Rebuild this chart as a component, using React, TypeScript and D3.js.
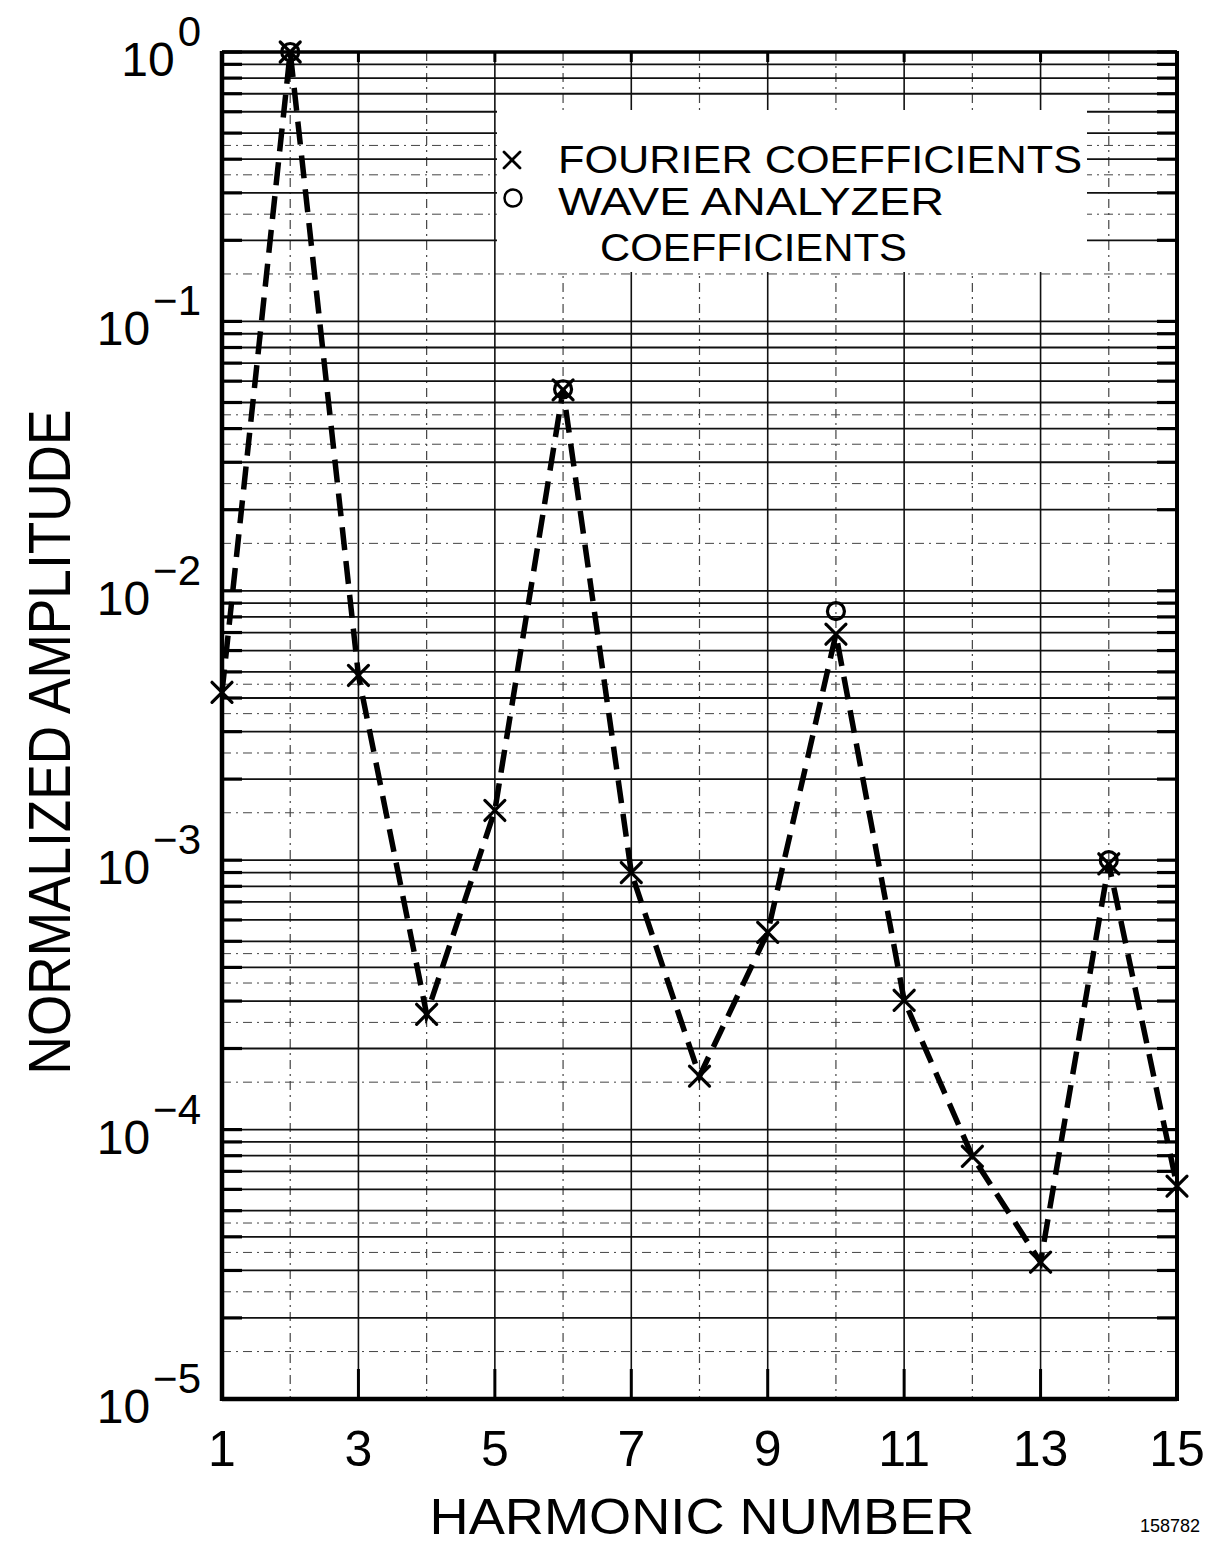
import React from "react";
import * as d3 from "d3";

// ---- data ----
const harmonics = [1, 2, 3, 4, 5, 6, 7, 8, 9, 10, 11, 12, 13, 14, 15];
const fourierAmplitudes = [
  4.2e-3, 1.0, 4.85e-3, 2.68e-4, 1.53e-3, 5.57e-2, 9.0e-4, 1.58e-4, 5.4e-4,
  6.9e-3, 3.02e-4, 7.96e-5, 3.22e-5, 9.7e-4, 6.17e-5,
];
const analyzerHarmonics = [2, 6, 10, 14];
const analyzerAmplitudes = [1.0, 5.6e-2, 8.4e-3, 1.0e-3];
const xTickValues = [1, 3, 5, 7, 9, 11, 13, 15];
const yTickExponents = [0, -1, -2, -3, -4, -5];
const legendLabels = ["FOURIER  COEFFICIENTS", "WAVE  ANALYZER", "COEFFICIENTS"];
const xTitle = "HARMONIC   NUMBER";
const yTitle = "NORMALIZED   AMPLITUDE";
const figureId = "158782";

const W = 1207;
const H = 1545;
const L = 222;
const R = 1177;
const T = 52;
const B = 1399;
const FONT = "'Liberation Sans', Arial, sans-serif";

export default function App() {
  const x = d3.scaleLinear().domain([1, 15]).range([L, R]);
  const y = d3.scaleLog().domain([1e-5, 1]).range([B, T]);

  const solidLevels: number[] = [];
  const dottedLevels: number[] = [];
  for (let e = -5; e < 0; e++) {
    for (let m = 1; m <= 9; m++) solidLevels.push(m * Math.pow(10, e));
    for (const m of [1.5, 2.5, 3.5, 4.5]) dottedLevels.push(m * Math.pow(10, e));
  }
  solidLevels.push(1);

  const line = d3
    .line<number>()
    .x((_, i) => x(harmonics[i]))
    .y((d) => y(d));

  const xMark = (cx: number, cy: number, s: number, key: string, w = 3.2) => (
    <g key={key} stroke="#000" strokeWidth={w} strokeLinecap="round">
      <line x1={cx - s} y1={cy - s} x2={cx + s} y2={cy + s} />
      <line x1={cx - s} y1={cy + s} x2={cx + s} y2={cy - s} />
    </g>
  );

  return (
    <svg
      width={W}
      height={H}
      style={{ position: "absolute", left: 0, top: 0, background: "#fff" }}
      fontFamily={FONT}
    >
      <rect x={0} y={0} width={W} height={H} fill="#fff" />
      {/* dotted minor horizontal lines */}
      {dottedLevels.map((v, i) => (
        <line
          key={"dh" + i}
          x1={L}
          x2={R}
          y1={y(v)}
          y2={y(v)}
          stroke="#444"
          strokeWidth={1}
          strokeDasharray="9 5 2 5"
        />
      ))}
      {/* even harmonic dotted vertical lines */}
      {harmonics
        .filter((h) => h % 2 === 0)
        .map((h) => (
          <line
            key={"dv" + h}
            x1={x(h)}
            x2={x(h)}
            y1={T}
            y2={B}
            stroke="#444"
            strokeWidth={1.2}
            strokeDasharray="9 5 2 5"
          />
        ))}
      {/* solid horizontal lines */}
      {solidLevels.map((v, i) => (
        <line
          key={"sh" + i}
          x1={L}
          x2={R}
          y1={y(v)}
          y2={y(v)}
          stroke="#111"
          strokeWidth={1.8}
        />
      ))}
      {/* odd harmonic solid vertical lines */}
      {xTickValues.map((h) => (
        <line
          key={"sv" + h}
          x1={x(h)}
          x2={x(h)}
          y1={T}
          y2={B}
          stroke="#111"
          strokeWidth={1.6}
        />
      ))}
      {/* axis tick marks */}
      {solidLevels.map((v, i) => (
        <g key={"tk" + i} stroke="#000" strokeWidth={3.2}>
          <line x1={L} x2={L + 20} y1={y(v)} y2={y(v)} />
          <line x1={R - 20} x2={R} y1={y(v)} y2={y(v)} />
        </g>
      ))}
      {xTickValues.map((h) => (
        <g key={"tx" + h} stroke="#000" strokeWidth={3}>
          <line x1={x(h)} x2={x(h)} y1={B} y2={B - 30} />
          <line x1={x(h)} x2={x(h)} y1={T} y2={T + 10} />
        </g>
      ))}
      {/* frame */}
      <line x1={L} x2={R} y1={T} y2={T} stroke="#000" strokeWidth={3.5} />
      <line x1={L} x2={R} y1={B} y2={B} stroke="#000" strokeWidth={4.5} />
      <line x1={L} x2={L} y1={T - 1} y2={B + 2} stroke="#000" strokeWidth={4.5} />
      <line x1={R} x2={R} y1={T - 1} y2={B + 2} stroke="#000" strokeWidth={4} />

      {/* legend box */}
      <rect x={497} y={110} width={590} height={162} fill="#fff" />
      {xMark(512, 160, 8, "lgx", 2.8)}
      <circle cx={513} cy={198} r={8.5} fill="none" stroke="#000" strokeWidth={2.5} />
      <text x={558} y={173} fontSize={38} textLength={524} lengthAdjust="spacingAndGlyphs">
        {legendLabels[0]}
      </text>
      <text x={558} y={215} fontSize={38} textLength={386} lengthAdjust="spacingAndGlyphs">
        {legendLabels[1]}
      </text>
      <text x={600} y={261} fontSize={38} textLength={307} lengthAdjust="spacingAndGlyphs">
        {legendLabels[2]}
      </text>

      {/* data line */}
      <path
        d={line(fourierAmplitudes) || ""}
        fill="none"
        stroke="#000"
        strokeWidth={5.5}
        strokeDasharray="23 11"
      />
      {/* Fourier markers */}
      {fourierAmplitudes.map((v, i) => xMark(x(harmonics[i]), y(v), 10, "fm" + i))}
      {/* analyzer markers */}
      {analyzerAmplitudes.map((v, i) => (
        <circle
          key={"am" + i}
          cx={x(analyzerHarmonics[i])}
          cy={y(v)}
          r={8.5}
          fill="none"
          stroke="#000"
          strokeWidth={3.2}
        />
      ))}

      {/* x tick labels */}
      {xTickValues.map((h) => (
        <text
          key={"xl" + h}
          x={x(h)}
          y={1466}
          fontSize={50}
          textAnchor="middle"
        >
          {h}
        </text>
      ))}
      {/* y tick labels */}
      {yTickExponents.map((e) => (
        <text key={"yl" + e} x={201} y={y(Math.pow(10, e)) + 24} fontSize={48} textAnchor="end">
          <tspan>10</tspan>
          <tspan dx={3} dy={-30} fontSize={42}>
            {e === 0 ? "0" : "\u2212" + Math.abs(e)}
          </tspan>
        </text>
      ))}

      {/* axis titles */}
      <text
        x={702}
        y={1534}
        fontSize={50}
        textAnchor="middle"
        textLength={545}
        lengthAdjust="spacingAndGlyphs"
      >
        {xTitle}
      </text>
      <text
        transform={`translate(70, 742) rotate(-90)`}
        fontSize={60}
        textAnchor="middle"
        textLength={665}
        lengthAdjust="spacingAndGlyphs"
      >
        {yTitle}
      </text>
      <text x={1200} y={1532} fontSize={18} textAnchor="end">
        {figureId}
      </text>
    </svg>
  );
}
